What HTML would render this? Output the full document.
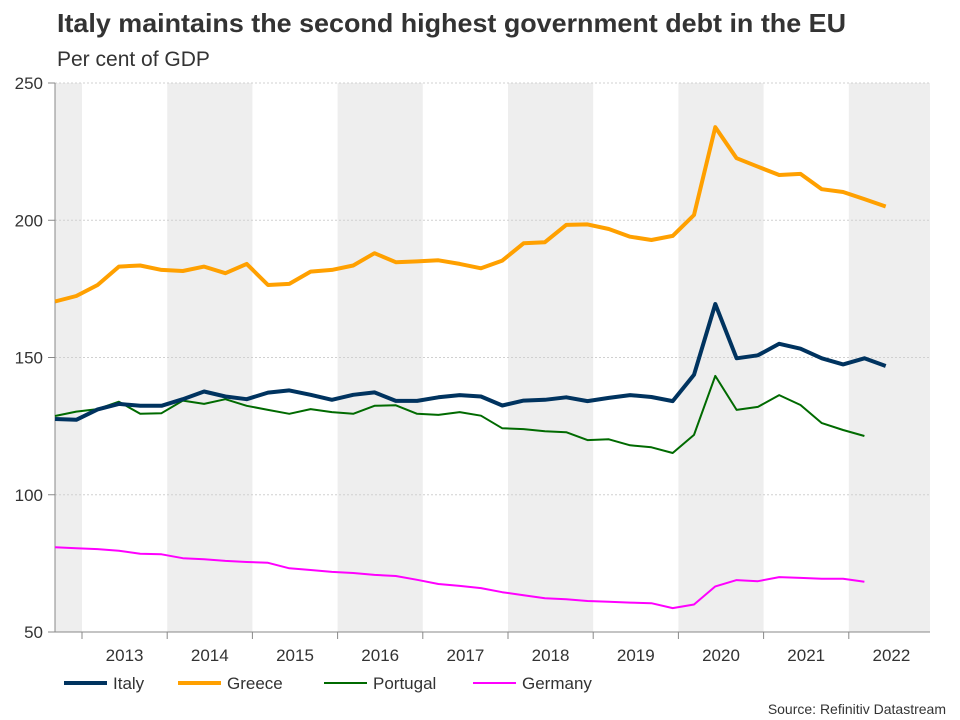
<!DOCTYPE html>
<html><head><meta charset="utf-8"><style>
body{margin:0;background:#fff;}
svg{display:block;font-family:"Liberation Sans",Arial,sans-serif;}
</style></head><body>
<svg id="chart" width="960" height="720">
<text x="57" y="32" font-size="26" font-weight="bold" fill="#333" textLength="789" lengthAdjust="spacingAndGlyphs">Italy maintains the second highest government debt in the EU</text>
<text x="57" y="66" font-size="21" fill="#333">Per cent of GDP</text>
<g id="bands"></g><g id="grid"></g><g id="axes"></g><g id="series"></g>
<g>
<g><line x1="64" y1="683" x2="107" y2="683" stroke="#00335f" stroke-width="4"/><text x="113" y="689" font-size="17" fill="#333">Italy</text></g>
<g><line x1="178" y1="683" x2="221" y2="683" stroke="#ffa000" stroke-width="4"/><text x="227" y="689" font-size="17" fill="#333">Greece</text></g>
<g><line x1="324" y1="683" x2="367" y2="683" stroke="#006a00" stroke-width="2"/><text x="373" y="689" font-size="17" fill="#333">Portugal</text></g>
<g><line x1="473" y1="683" x2="516" y2="683" stroke="#ff00ff" stroke-width="2"/><text x="522" y="689" font-size="17" fill="#333">Germany</text></g>
</g>
<text x="946" y="714" font-size="14" fill="#333" text-anchor="end">Source: Refinitiv Datastream</text>
</svg>
<script>
const years=[2013,2014,2015,2016,2017,2018,2019,2020,2021,2022];
const yTicks=[50,100,150,200,250];
const startYear=2012.683;
const italy=[127.6,127.3,131.1,133.1,132.4,132.4,134.8,137.6,135.8,134.8,137.2,138.0,136.4,134.6,136.4,137.3,134.2,134.2,135.5,136.3,135.8,132.5,134.3,134.6,135.5,134.1,135.3,136.3,135.6,134.1,143.7,169.5,149.7,150.8,155.0,153.2,149.7,147.5,149.7,146.9];
const greece=[170.4,172.4,176.4,183.1,183.5,181.9,181.5,183.1,180.7,184.1,176.4,176.8,181.3,181.9,183.5,188.0,184.7,185.0,185.4,184.1,182.5,185.3,191.6,192.0,198.3,198.5,196.8,194.0,192.8,194.3,201.9,233.9,222.6,219.5,216.5,216.9,211.3,210.3,207.7,205.0];
const portugal=[128.7,130.3,131.2,133.9,129.5,129.7,134.3,133.1,134.8,132.4,130.9,129.5,131.2,130.1,129.5,132.4,132.6,129.5,129.1,130.1,128.8,124.2,123.9,123.1,122.8,119.9,120.2,118.0,117.3,115.2,121.8,143.3,130.9,132.0,136.3,132.7,126.1,123.6,121.4];
const germany=[80.9,80.5,80.2,79.6,78.5,78.3,76.9,76.5,75.9,75.5,75.2,73.2,72.6,71.9,71.5,70.8,70.4,69.0,67.5,66.8,66.0,64.5,63.4,62.3,61.9,61.3,61.0,60.7,60.5,58.7,60.0,66.6,68.9,68.5,70.0,69.7,69.4,69.4,68.3];
const NS="http://www.w3.org/2000/svg";
const L=55,R=930,T=83,B=632;
const x=t=>82+(t-2013)*85.2;
const y=v=>B-(v-50)*(B-T)/200;
function mk(tag,attrs,parent){const e=document.createElementNS(NS,tag);for(const k in attrs)e.setAttribute(k,attrs[k]);parent.appendChild(e);return e;}
const bands=document.getElementById('bands'),grid=document.getElementById('grid'),axes=document.getElementById('axes'),series=document.getElementById('series');
for(let yr=2012;yr<=2022;yr+=2){
  const a=Math.max(L,x(yr)),b=Math.min(R,x(yr+1));
  const r=mk('rect',{x:a,y:T,width:b-a,height:B-T,fill:'#eeeeee'},bands);
  
  
}
yTicks.forEach(v=>{
  if(v>50){const g=mk('line',{x1:L,x2:R,y1:y(v),y2:y(v),stroke:'#d0d0d0','stroke-dasharray':'2,2'},grid);
  
  }
  mk('line',{x1:L-7,x2:L,y1:y(v),y2:y(v),stroke:'#888'},axes);
  const t=mk('text',{x:43,y:y(v)+6,'font-size':17,fill:'#333','text-anchor':'end'},axes);t.textContent=v;
  
  
});
mk('line',{x1:L,x2:L,y1:T,y2:B,stroke:'#888'},axes);
mk('line',{x1:L,x2:R,y1:B,y2:B,stroke:'#888'},axes);
years.forEach(yr=>{
  mk('line',{x1:x(yr),x2:x(yr),y1:B,y2:B+7,stroke:'#888'},axes);
  const t=mk('text',{x:x(yr)+42.6,y:661,'font-size':17,fill:'#333','text-anchor':'middle'},axes);t.textContent=yr;
  
  
});
function line(data,color,w,name){
  const pts=data.map((v,i)=>x(startYear+i*0.25).toFixed(1)+','+y(v).toFixed(1)).join(' ');
  const p=mk('polyline',{points:pts,fill:'none',stroke:color,'stroke-width':w,'stroke-linejoin':'round'},series);
  
  
}
line(germany,'#ff00ff',2,'germany-line');
line(portugal,'#006a00',2,'portugal-line');
line(greece,'#ffa000',4,'greece-line');
line(italy,'#00335f',4,'italy-line');
</script>
</body></html>
